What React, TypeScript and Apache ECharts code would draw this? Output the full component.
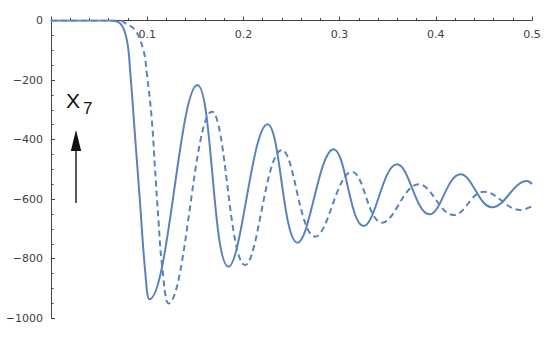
import React, { useEffect, useRef } from "react";
import * as echarts from "echarts";

const solidX = [0, 0.06, 0.072, 0.0788, 0.0822, 0.0874, 0.0926, 0.0978, 0.1023, 0.1522, 0.1845, 0.2251, 0.2563, 0.2938, 0.325, 0.3597, 0.3933, 0.4256, 0.4586, 0.495, 0.5];
const solidY = [0, 0, -10, -65, -166, -390, -614, -838, -936, -217, -827, -348, -746, -432, -690, -483, -651, -516, -627, -539, -549];

const dashedX = [0, 0.072, 0.077, 0.0874, 0.096, 0.0996, 0.1048, 0.1082, 0.1117, 0.1152, 0.1221, 0.1672, 0.2019, 0.24, 0.2747, 0.3129, 0.3441, 0.3822, 0.4186, 0.4498, 0.488, 0.5];
const dashedY = [0, 0, -9, -32, -99, -177, -334, -502, -670, -815, -950, -306, -821, -435, -726, -508, -679, -550, -653, -575, -636, -624];

const xTickLabels = ["", "0.1", "0.2", "0.3", "0.4", "0.5"];
const yLabel = "X";
const ySub = "7";

const LINE = "#5a83bd";
const AXIS = "#444";
const TXT = "#404040";

export default function App() {
  const ref = useRef<HTMLDivElement>(null);
  useEffect(() => {
    if (!ref.current) return;
    const chart = echarts.init(ref.current, null, { renderer: "svg" });
    chart.setOption({
      animation: false,
      backgroundColor: "#fff",
      grid: { left: 51, right: 18, top: 20.5, bottom: 19.7, containLabel: false },
      xAxis: {
        type: "value",
        position: "top",
        min: 0,
        max: 0.5,
        interval: 0.1,
        axisLine: { show: true, lineStyle: { color: AXIS, width: 1 } },
        axisTick: { show: true, inside: false, length: 4, lineStyle: { color: AXIS } },
        minorTick: { show: true, splitNumber: 5, length: 2.5, lineStyle: { color: AXIS } },
        axisLabel: {
          inside: true,
          margin: 8,
          color: TXT,
          fontFamily: "DejaVu Sans",
          fontSize: 11,
          formatter: (v: number) => xTickLabels[Math.round(v * 10)] ?? "",
        },
        splitLine: { show: false },
      },
      yAxis: {
        type: "value",
        min: -1000,
        max: 0,
        interval: 200,
        axisLine: { show: true, lineStyle: { color: AXIS, width: 1 } },
        axisTick: { show: true, inside: true, length: 4, lineStyle: { color: AXIS } },
        minorTick: { show: true, splitNumber: 4, length: 2.5, lineStyle: { color: AXIS } },
        axisLabel: {
          margin: 8,
          color: TXT,
          fontFamily: "DejaVu Sans",
          fontSize: 11,
          formatter: (v: number) => (v < 0 ? "\u2212" + Math.abs(v) : String(v)),
        },
        splitLine: { show: false },
      },
      series: [
        {
          type: "line",
          data: solidX.map((x, i) => [x, solidY[i]]),
          showSymbol: false,
          smooth: 0.4,
          lineStyle: { color: LINE, width: 2 },
          z: 3,
        },
        {
          type: "line",
          data: dashedX.map((x, i) => [x, dashedY[i]]),
          showSymbol: false,
          smooth: 0.4,
          lineStyle: { color: LINE, width: 2, type: [6, 4] },
          z: 3,
        },
      ],
      graphic: [
        {
          type: "text",
          left: 66,
          top: 90,
          style: { text: yLabel, fontFamily: "Liberation Sans", fontSize: 21, fill: "#111" },
        },
        {
          type: "text",
          left: 83,
          top: 100,
          style: { text: ySub, fontFamily: "Liberation Sans", fontSize: 17, fill: "#111" },
        },
        {
          type: "line",
          shape: { x1: 76, y1: 203, x2: 76, y2: 145 },
          style: { stroke: "#222", lineWidth: 1.5 },
        },
        {
          type: "polygon",
          shape: { points: [[76, 130], [70.8, 151], [81.2, 151]] },
          style: { fill: "#111" },
        },
      ],
    });
    return () => chart.dispose();
  }, []);
  return (
    <div
      ref={ref}
      style={{ position: "absolute", left: 0, top: 0, width: 550, height: 338 }}
    />
  );
}
